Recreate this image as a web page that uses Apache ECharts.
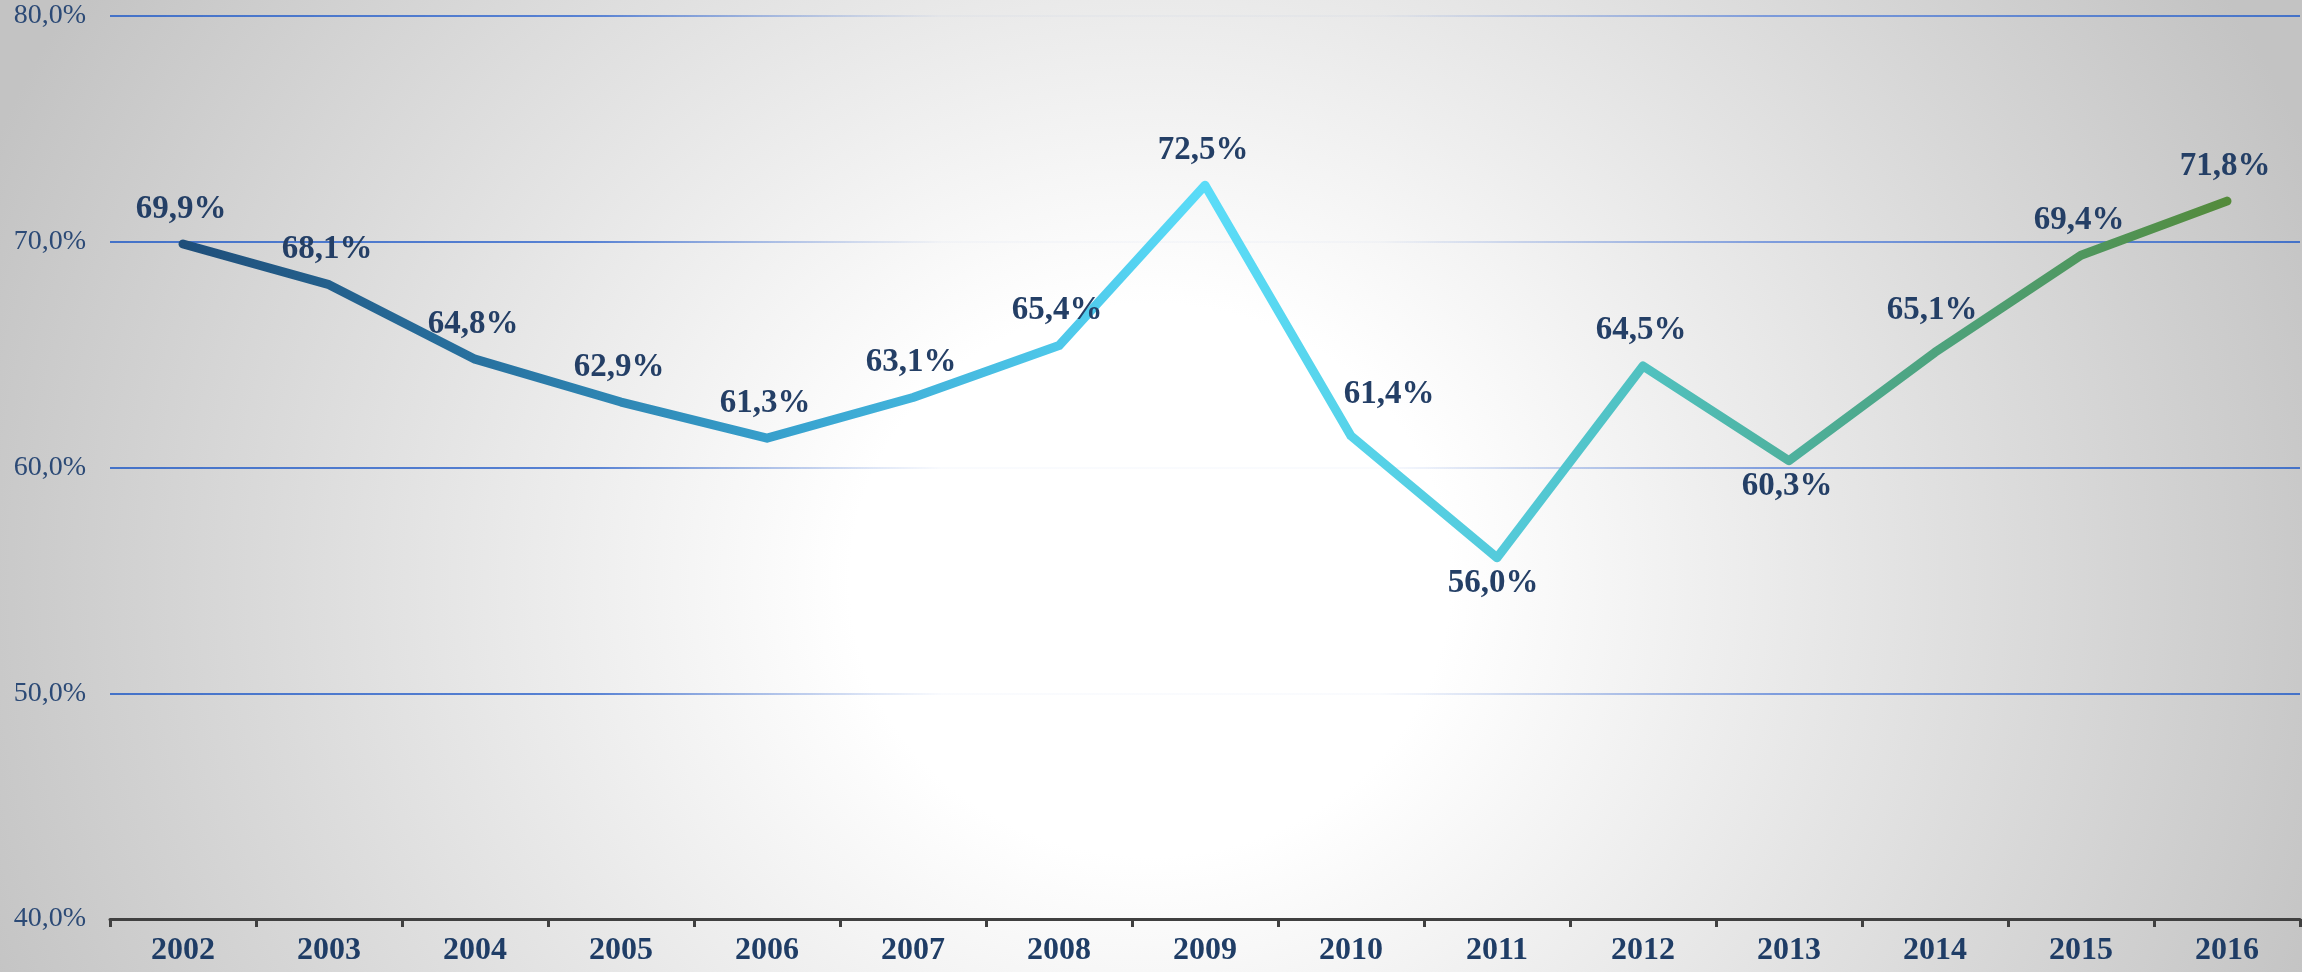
<!DOCTYPE html>
<html>
<head>
<meta charset="utf-8">
<title>2002–2016</title>
<script src="https://cdn.jsdelivr.net/npm/echarts@6/dist/echarts.min.js"></script>
<style>
  html, body { margin: 0; padding: 0; }
  #chart {
    width: 2302px; height: 972px;
    background: radial-gradient(ellipse 1250px 1150px at 1150px 580px, #ffffff 0%, #ffffff 24%, #c3c3c3 100%);
  }
</style>
</head>
<body>
<div id="chart"></div>
<script>
// Yearly values (percent)
const years = ['2002','2003','2004','2005','2006','2007','2008','2009','2010','2011','2012','2013','2014','2015','2016'];
const shares = [69.9, 68.1, 64.8, 62.9, 61.3, 63.1, 65.4, 72.5, 61.4, 56.0, 64.5, 60.3, 65.1, 69.4, 71.8];

// Value axis range
const axisMin = 40;
const axisMax = 80;
const axisStep = 10;

// Label nudges (px) relative to the point centre; everything else sits above
const defaultLabelOffset = [-2, -35];
const labelOffsets = {
  '2010': [38, -41],
  '2011': [-4, 26],
  '2013': [-2, 26],
  '2014': [-3, -42]
};

const fmt = v => v.toFixed(1).replace('.', ',') + '%';

const chart = echarts.init(document.getElementById('chart'), null, { renderer: 'canvas' });

const seriesData = shares.map((v, i) => ({
  value: v,
  label: { offset: labelOffsets[years[i]] || defaultLabelOffset }
}));

chart.setOption({
  backgroundColor: 'transparent',
  animation: false,
  grid: { left: 110, right: 2, top: 16, bottom: 53, containLabel: false },
  xAxis: {
    type: 'category',
    data: years,
    boundaryGap: true,
    axisLine: { show: true, lineStyle: { color: '#404040', width: 3 } },
    axisTick: { show: true, length: 8, alignWithLabel: false, lineStyle: { color: '#404040', width: 3 } },
    axisLabel: {
      margin: 16,
      color: '#1f3d66',
      fontFamily: 'Liberation Serif',
      fontWeight: 'bold',
      fontSize: 32
    },
    splitLine: { show: false }
  },
  yAxis: {
    type: 'value',
    min: axisMin,
    max: axisMax,
    interval: axisStep,
    axisLine: { show: false },
    axisTick: { show: false },
    axisLabel: {
      margin: 24,
      color: '#2c4a76',
      fontFamily: 'Liberation Serif',
      fontSize: 28,
      formatter: v => fmt(v)
    },
    splitLine: {
      show: true,
      lineStyle: {
        width: 2,
        color: {
          type: 'linear', x: 110, y: 0, x2: 2300, y2: 0, global: true,
          colorStops: [
            { offset: 0, color: 'rgba(68,114,200,1)' },
            { offset: 0.22, color: 'rgba(80,124,210,0.95)' },
            { offset: 0.38, color: 'rgba(110,145,220,0.04)' },
            { offset: 0.58, color: 'rgba(110,145,220,0.04)' },
            { offset: 0.76, color: 'rgba(100,138,218,0.8)' },
            { offset: 1, color: 'rgba(68,114,200,1)' }
          ]
        }
      }
    }
  },
  series: [{
    type: 'line',
    data: seriesData,
    smooth: false,
    symbol: 'circle',
    symbolSize: 1,
    itemStyle: { color: 'rgba(0,0,0,0)' },
    lineStyle: {
      width: 9,
      cap: 'round',
      join: 'round',
      color: {
        type: 'linear', x: 0, y: 0, x2: 1, y2: 0,
        colorStops: [
          { offset: 0, color: '#1f4e79' },
          { offset: 0.15, color: '#2872a0' },
          { offset: 0.3, color: '#38a3cf' },
          { offset: 0.5, color: '#5adcf8' },
          { offset: 0.64, color: '#54cbdc' },
          { offset: 0.72, color: '#50c0bd' },
          { offset: 0.82, color: '#4da98d' },
          { offset: 0.92, color: '#4f9862' },
          { offset: 1, color: '#548a3a' }
        ]
      }
    },
    label: {
      show: true,
      position: 'inside',
      color: '#243f66',
      fontFamily: 'Liberation Serif',
      fontWeight: 'bold',
      fontSize: 33,
      formatter: p => fmt(p.value)
    },
    emphasis: { disabled: true }
  }]
});
</script>
</body>
</html>
